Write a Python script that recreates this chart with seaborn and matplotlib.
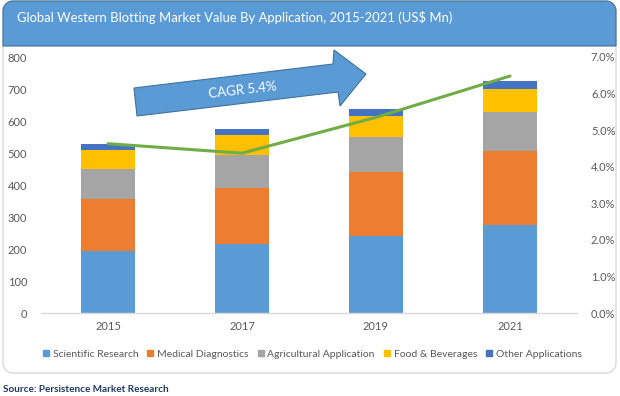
import numpy as np
import pandas as pd
import matplotlib
matplotlib.use("Agg")
import matplotlib.pyplot as plt
import seaborn as sns
from matplotlib.patches import Polygon, PathPatch
from matplotlib.path import Path
from matplotlib.lines import Line2D
from matplotlib.ticker import FuncFormatter, MultipleLocator

# ---- data ----
years = ["2015", "2017", "2019", "2021"]
scientific_research = [194, 217, 242, 275]
medical_diagnostics = [161, 175, 200, 231]
agricultural_application = [95, 102, 107, 121]
food_beverages = [59, 62, 68, 73]
other_applications = [19, 20, 21, 26]
growth_rate = [0.0463, 0.0437, 0.0535, 0.0648]
series_names = ["Scientific Research", "Medical Diagnostics", "Agricultural Application",
                "Food & Beverages", "Other Applications"]
cagr_label = "CAGR 5.4%"
title = "Global Western Blotting Market Value By Application, 2015-2021 (US$ Mn)"
source = "Source: Persistence Market Research"

colors = ["#5B9BD5", "#ED7D31", "#A5A5A5", "#FFC000", "#4472C4"]
line_color = "#70AD47"

sns.set_theme(style="white")
plt.rcParams["font.family"] = ["Lato", "DejaVu Sans"]

W, H = 620, 396
fig = plt.figure(figsize=(W / 100, H / 100), dpi=100)
fig.patch.set_facecolor("white")


def fx(x):
    return x / W


def fy(y):
    return 1 - y / H


ax_l, ax_r, ax_t, ax_b = 41, 577, 57, 313
ax = fig.add_axes([fx(ax_l), fy(ax_b), (ax_r - ax_l) / W, (ax_b - ax_t) / H])
ax.patch.set_alpha(0)

series = [scientific_research, medical_diagnostics, agricultural_application,
          food_beverages, other_applications]
cum = np.cumsum(np.array(series), axis=0)
df = pd.DataFrame({"year": years})
for i in range(len(series) - 1, -1, -1):
    df["cum"] = cum[i]
    sns.barplot(data=df, x="year", y="cum", color=colors[i], saturation=1,
                width=0.4, linewidth=0, ax=ax, order=years)

ax.set_xlim(-0.5, len(years) - 0.5)
ax.set_ylim(0, 800)
ax.yaxis.set_major_locator(MultipleLocator(100))
ax.set_xlabel("")
ax.set_ylabel("")
for s in ["top", "right", "left"]:
    ax.spines[s].set_visible(False)
ax.spines["bottom"].set_color("#D9D9D9")
ax.spines["bottom"].set_linewidth(1)
ax.tick_params(axis="both", length=0, labelsize=8, labelcolor="#595959")
ax.tick_params(axis="y", pad=10)
ax.tick_params(axis="x", pad=6)

ax2 = ax.twinx()
ax2.patch.set_alpha(0)
sns.lineplot(x=np.arange(len(years)), y=growth_rate, color=line_color,
             linewidth=2.2, ax=ax2)
ax2.set_xlim(-0.5, len(years) - 0.5)
ax2.set_ylim(0, 0.07)
ax2.yaxis.set_major_locator(MultipleLocator(0.01))
ax2.yaxis.set_major_formatter(FuncFormatter(lambda v, p: f"{v * 100:.1f}%"))
for s in ["top", "right", "left", "bottom"]:
    ax2.spines[s].set_visible(False)
ax2.tick_params(axis="y", length=0, labelsize=8, labelcolor="#595959", pad=10)

# ---- outer border ----
def rounded_path(x0, y0, x1, y1, r, round_bottom=True):
    verts = []
    t = np.linspace(0, np.pi / 2, 10)
    for a in t:
        verts.append((x0 + r - r * np.cos(a), y0 + r - r * np.sin(a)))
    for a in t:
        verts.append((x1 - r + r * np.sin(a), y0 + r - r * np.cos(a)))
    if round_bottom:
        for a in t:
            verts.append((x1 - r + r * np.cos(a), y1 - r + r * np.sin(a)))
        for a in t:
            verts.append((x0 + r - r * np.sin(a), y1 - r + r * np.cos(a)))
    else:
        verts.append((x1, y1))
        verts.append((x0, y1))
    verts = [(fx(a), fy(b)) for a, b in verts]
    verts.append(verts[0])
    codes = [Path.MOVETO] + [Path.LINETO] * (len(verts) - 2) + [Path.CLOSEPOLY]
    return Path(verts, codes)


fig.patches.append(PathPatch(rounded_path(3, 1, 616, 373, 10), facecolor="none",
                             edgecolor="#D9D9D9", linewidth=1,
                             transform=fig.transFigure, figure=fig))
fig.patches.append(PathPatch(rounded_path(3, 1, 616, 46, 10, round_bottom=False),
                             facecolor="#5B9BD5", edgecolor="#41719C", linewidth=0.8,
                             transform=fig.transFigure, figure=fig))
fig.text(fx(17), fy(17), title, color="white", fontsize=9.4, ha="left", va="center")

# ---- CAGR arrow ----
arrow_px = [(134, 88), (333, 64), (334, 50), (366, 74), (340, 106), (338, 92), (137, 116)]
fig.patches.append(Polygon([(fx(a), fy(b)) for a, b in arrow_px], closed=True,
                           facecolor="#5B9BD5", edgecolor="#41719C", linewidth=0.8,
                           transform=fig.transFigure, figure=fig, zorder=5))
fig.text(fx(243), fy(90), cagr_label, color="white", fontsize=9.5, ha="center",
         va="center", rotation=6.5, zorder=6)

# ---- legend ----
handles = [Line2D([0], [0], marker="s", linestyle="none", markersize=4.5,
                  markerfacecolor=c, markeredgecolor=c) for c in colors]
fig.legend(handles, series_names, loc="center", bbox_to_anchor=(fx(312), fy(354)),
           ncol=5, frameon=False, fontsize=7.5, handlelength=0.7, handletextpad=0.3,
           columnspacing=0.8, labelcolor="#595959")

fig.text(fx(3), fy(390), source, color="#1F3864", fontsize=7.2, fontweight="bold",
         ha="left", va="center")

fig.savefig("out.png", dpi=100)
